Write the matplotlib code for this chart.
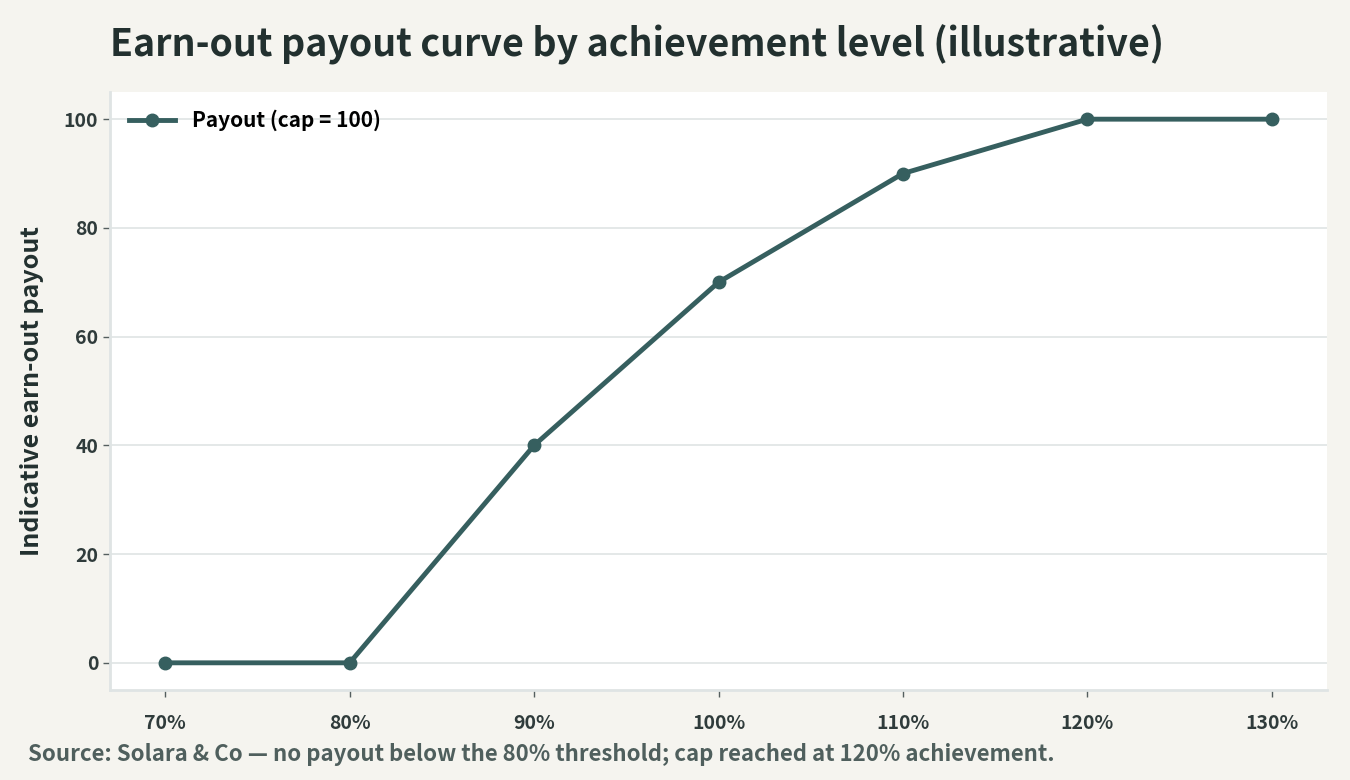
import matplotlib.pyplot as plt

achievement = [70, 80, 90, 100, 110, 120, 130]
payout = [0, 0, 40, 70, 90, 100, 100]
x_labels = ['70%', '80%', '90%', '100%', '110%', '120%', '130%']
y_ticks = [0, 20, 40, 60, 80, 100]


def main():
    plt.rcParams['font.family'] = ['Noto Sans CJK SC', 'DejaVu Sans']
    dark = '#22302f'
    line_col = '#365f5f'
    grid_col = '#dfe4e4'

    fig = plt.figure(figsize=(13.5, 7.8), dpi=100, facecolor='#f5f4ef')
    ax = fig.add_axes([110 / 1350, 90 / 780, 1217 / 1350, 598 / 780])
    ax.set_facecolor('white')

    ax.plot(achievement, payout, color=line_col, lw=3.5, marker='o', ms=9,
            label='Payout (cap = 100)', zorder=3)

    ax.set_xticks(achievement)
    ax.set_xticklabels(x_labels)
    ax.set_yticks(y_ticks)
    ax.grid(axis='y', color=grid_col, lw=1.2)
    ax.set_axisbelow(True)
    for s in ['top', 'right']:
        ax.spines[s].set_visible(False)
    for s in ['left', 'bottom']:
        ax.spines[s].set_color(grid_col)
        ax.spines[s].set_linewidth(2)
    ax.tick_params(colors='#555f5f', length=5, width=1)
    for lab in ax.get_xticklabels() + ax.get_yticklabels():
        lab.set_fontsize(14)
        lab.set_fontweight('bold')
        lab.set_color('#2f3b3b')
    ax.tick_params(axis='x', pad=12)

    ax.set_ylabel('Indicative earn-out payout', fontsize=18, fontweight='bold',
                  color=dark, labelpad=14)

    ax.legend(loc='upper left', frameon=False,
              prop={'weight': 'bold', 'size': 15}, handlelength=2.2,
              borderaxespad=0.3, bbox_to_anchor=(0.004, 0.995))

    fig.text(110 / 1350, 1 - 45 / 780, 'Earn-out payout curve by achievement level (illustrative)',
             fontsize=27, fontweight='bold', color=dark, va='center', ha='left')
    fig.text(28 / 1350, 1 - 755 / 780,
             'Source: Solara & Co \u2014 no payout below the 80% threshold; cap reached at 120% achievement.',
             fontsize=16, fontweight='bold', color='#4f5f5d', va='center', ha='left')

    fig.savefig('out.png', dpi=100, facecolor=fig.get_facecolor())


if __name__ == '__main__':
    main()
